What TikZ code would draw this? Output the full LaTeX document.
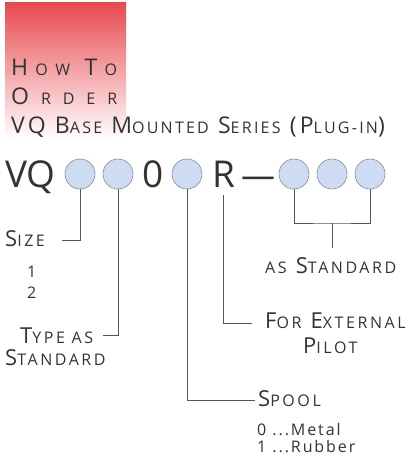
\documentclass[tikz,border=0pt]{standalone}
\usepackage{fontspec}
\setmainfont{Open Sans}
\newfontfamily\spaced[LetterSpace=16]{Open Sans}
\newfontfamily\titlefont[LetterSpace=14]{Open Sans}
\newfontfamily\optfont[LetterSpace=12]{Open Sans}
\usetikzlibrary{positioning}
\usepackage{xcolor}
\definecolor{cRed}{HTML}{E84A4F}
\definecolor{cBlue}{HTML}{CDDCF2}
\definecolor{cGray}{HTML}{8A8A90}
\definecolor{cText}{HTML}{333333}
\definecolor{cLine}{HTML}{555555}

% fake small caps
\newcommand\lsm[1]{{\fontsize{16}{19}\selectfont #1}}
\newcommand\tsm[1]{{\fontsize{16}{19}\selectfont #1}}

\begin{document}
\begin{tikzpicture}[x=1pt, y=-1pt,
    ring/.style={circle, draw=cGray, fill=cBlue, minimum size=30pt, inner sep=0pt, line width=0.6pt},
    big/.style={anchor=base west, inner sep=0pt, text=cText, font=\fontsize{37}{40}\selectfont},
    ttl/.style={anchor=base west, inner sep=0pt, text=cText, font=\titlefont\fontsize{23}{26}\selectfont},
    lbl/.style={anchor=base west, inner sep=0pt, text=cText, font=\spaced\fontsize{22}{25}\selectfont},
    opt/.style={anchor=base west, inner sep=0pt, text=cText, font=\optfont\fontsize{16}{19}\selectfont},
    conn/.style={draw=cLine, line width=0.7pt}]
  \useasboundingbox (0,0) rectangle (407,460);

  % Title block
  \shade[top color=cRed, bottom color=white] (5,3) rectangle (126,139);
  \node[ttl] (how) at (11,75) {\makebox[106pt][s]{H\hfil\tsm{O}\hfil\tsm{W}\hfil\hfil T\hfil\tsm{O}}};
  \node[ttl] (order) at (11,104) {\makebox[106pt][s]{O\hfil\tsm{R}\hfil\tsm{D}\hfil\tsm{E}\hfil\tsm{R}}};
  \node[ttl] (series) at (11,133) {VQ B\tsm{ASE} M\tsm{OUNTED} S\tsm{ERIES} (P\tsm{LUG-IN})};

  % Code row
  \node[big] (vq) at (5,187) {VQ};
  \node[big] (zero) at (142,187) {0};
  \node[big, inner ysep=8pt] (rr) at (212,187) {R};
  \node[big, font=\fontsize{34}{40}\selectfont] (dash) at (241,187) {—};
  \foreach \i/\x in {1/80, 2/118, 3/187, 4/294, 5/332, 6/370}
    \node[ring] (c\i) at (\x,174) {};

  % Labels
  \node[lbl] (size) at (5,246) {S\lsm{IZE}};
  \node[opt] (one) at (27,277) {1};
  \node[opt] (two) at (27,298) {2};
  \node[lbl] (typeA) at (20,343) {T\lsm{YPE AS}};
  \node[lbl] (typeB) at (5,365) {S\lsm{TANDARD}};
  \node[lbl] (asstd) at (265,273) {\lsm{AS} S\lsm{TANDARD}};
  \node[lbl] (ext) at (265,328) {F\lsm{OR} E\lsm{XTERNAL}};
  \node[lbl] (pilot) at (303,353) {P\lsm{ILOT}};
  \node[lbl] (spool) at (258,406) {S\lsm{POOL}};
  \node[opt] (metal) at (257,435) {0 ...Metal};
  \node[opt] (rubber) at (257,452) {1 ...Rubber};

  % Connectors
  \coordinate (sizeEnd) at (62,240);
  \coordinate (typeEnd) at (103,335);
  \coordinate (extEnd) at (252,323);
  \coordinate (spoolEnd) at (255,400);
  \coordinate (brk) at (c5 |- 0,223);
  \coordinate (stdEnd) at (c5 |- 0,248);
  \draw[conn] (c1.south) |- (sizeEnd);
  \draw[conn] (c2.south) |- (typeEnd);
  \draw[conn] (c3.south) |- (spoolEnd);
  \draw[conn] (rr.south) |- (extEnd);
  \draw[conn] (c4.south) |- (brk) -| (c6.south);
  \draw[conn] (brk) -- (stdEnd);
\end{tikzpicture}
\end{document}
